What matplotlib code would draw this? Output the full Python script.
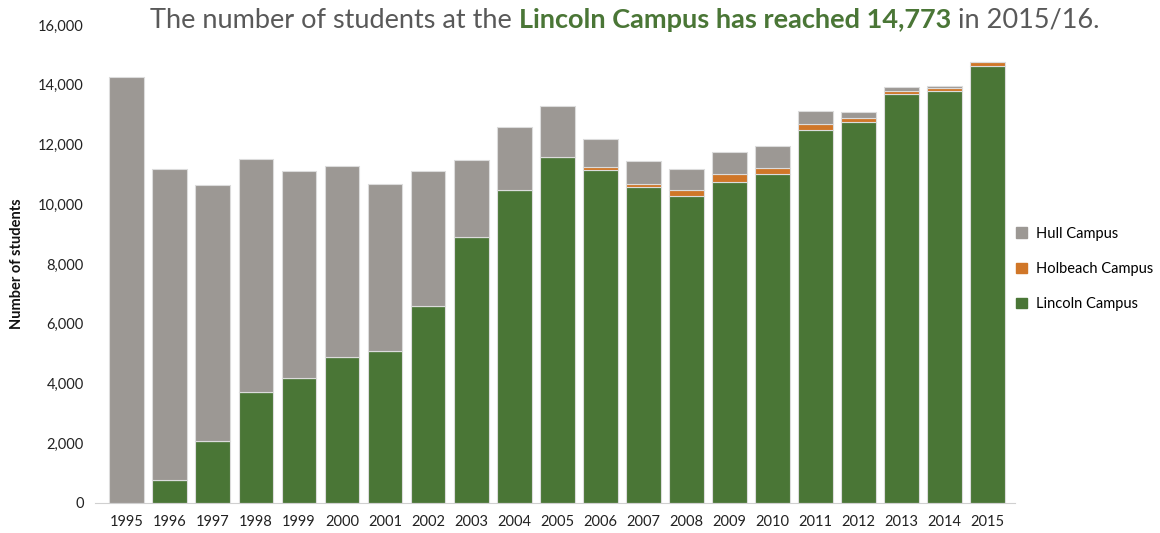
import matplotlib
matplotlib.use("Agg")
import matplotlib.pyplot as plt
from matplotlib.ticker import FuncFormatter
from matplotlib.patches import Patch

years = [str(y) for y in range(1995, 2016)]
lincoln = [0, 770, 2060, 3710, 4190, 4890, 5090, 6610, 8900, 10480, 11580,
           11150, 10570, 10290, 10750, 11020, 12480, 12760, 13700, 13800, 14640]
holbeach = [0, 0, 0, 0, 0, 0, 0, 0, 0, 0, 0,
            100, 100, 190, 270, 190, 190, 120, 100, 100, 110]
hull = [14250, 10400, 8570, 7800, 6930, 6375, 5580, 4510, 2570, 2105, 1700,
        945, 787, 688, 728, 739, 461, 197, 113, 57, 0]

C_GREEN = "#4A7636"
C_ORANGE = "#D07628"
C_GRAY = "#9C9894"
FONT = ["Lato", "DejaVu Sans"]
plt.rcParams["font.family"] = FONT

fig = plt.figure(figsize=(11.6, 5.33), dpi=100)
ax = fig.add_axes([95/1160, 1-503/533, 920/1160, 478/533])

x = list(range(len(years)))
bot2 = [a + b for a, b in zip(lincoln, holbeach)]
kw = dict(width=0.81, edgecolor="#dcdcdc", linewidth=0.8)
ax.bar(x, lincoln, color=C_GREEN, **kw)
ax.bar(x, holbeach, bottom=lincoln, color=C_ORANGE, **kw)
ax.bar(x, hull, bottom=bot2, color=C_GRAY, **kw)

ax.set_xlim(-0.74, 20.64)
ax.set_ylim(0, 16000)
ax.set_yticks(range(0, 16001, 2000))
ax.yaxis.set_major_formatter(FuncFormatter(lambda v, p: f"{int(v):,}"))
ax.set_xticks(x)
ax.set_xticklabels(years)
for s in ["top", "right", "left"]:
    ax.spines[s].set_visible(False)
ax.spines["bottom"].set_color("#d0d0d0")
ax.tick_params(axis="both", length=0, labelsize=10.5, colors="#222222")
ax.tick_params(axis="x", pad=9)
ax.tick_params(axis="y", pad=8)
ax.set_ylabel("Number of students", fontsize=10.5, fontweight="bold", color="#111111", labelpad=10)

handles = [Patch(color=C_GRAY, label="Hull Campus"),
           Patch(color=C_ORANGE, label="Holbeach Campus"),
           Patch(color=C_GREEN, label="Lincoln Campus")]
fig.legend(handles=handles, loc="center left", bbox_to_anchor=(1003/1160, 1-269/533),
           frameon=False, fontsize=10.5, handlelength=0.75, handleheight=0.75,
           handletextpad=0.6, labelspacing=1.45)

# Title composed of pieces
fig.canvas.draw()
renderer = fig.canvas.get_renderer()
pieces = [("The number of students at the ", "#595959", "normal"),
          ("Lincoln Campus has reached 14,773", C_GREEN, "bold"),
          (" in 2015/16.", "#595959", "normal")]
fs = 17
ty = 1 - 20/533
texts = []
xpos = 150
for txt, col, wt in pieces:
    t = fig.text(xpos/1160, ty, txt, color=col, fontweight=wt, fontsize=fs,
                 ha="left", va="center")
    bb = t.get_window_extent(renderer)
    xpos += bb.width
    texts.append(t)
total = xpos - 150
scale = 950 / total
if abs(scale - 1) > 0.01:
    for t in texts:
        t.remove()
    fs = fs * scale
    xpos = 150
    for txt, col, wt in pieces:
        t = fig.text(xpos/1160, ty, txt, color=col, fontweight=wt, fontsize=fs,
                     ha="left", va="center")
        bb = t.get_window_extent(renderer)
        xpos += bb.width

fig.savefig("out.png", dpi=100)
